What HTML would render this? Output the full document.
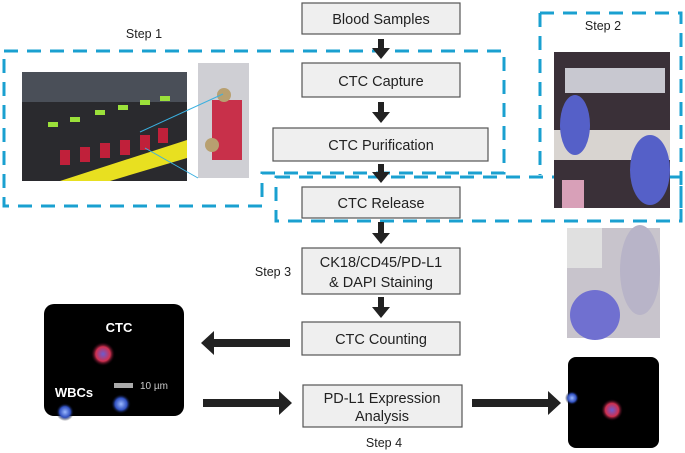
<!DOCTYPE html>
<html><head><meta charset="utf-8"><style>
html,body{margin:0;padding:0;background:#fff;}
svg{display:block;font-family:"Liberation Sans",Arial,sans-serif;}
</style></head><body>
<svg width="685" height="453" viewBox="0 0 685 453" xmlns="http://www.w3.org/2000/svg">
<defs>
<radialGradient id="cell" cx="50%" cy="50%" r="50%"><stop offset="0" stop-color="#6a5cd0"/><stop offset="0.6" stop-color="#d03050"/><stop offset="1" stop-color="#200010" stop-opacity="0"/></radialGradient>
<radialGradient id="wbc" cx="50%" cy="50%" r="50%"><stop offset="0" stop-color="#9ab8ff"/><stop offset="0.6" stop-color="#3050c0"/><stop offset="1" stop-color="#000" stop-opacity="0"/></radialGradient>
</defs>
<!-- dashed boxes -->
<g fill="none" stroke="#1aa0d0" stroke-width="3" stroke-dasharray="14,9">
<path d="M4 51 H504 V173 H262 V206 H4 Z"/>
<path d="M276 177 H681 V221 H276 Z"/>
<path d="M540 13 H681 V221 M540 13 V175"/>
</g>
<!-- photos -->
<rect x="22" y="72" width="165" height="109" fill="#2a2a2e"/>
<rect x="22" y="72" width="165" height="30" fill="#4a4f58"/>
<polygon points="60,181 187,140 187,158 110,181" fill="#e8e020"/>
<g fill="#c0203a"><rect x="60" y="150" width="10" height="15"/><rect x="80" y="147" width="10" height="15"/><rect x="100" y="143" width="10" height="15"/><rect x="120" y="140" width="10" height="15"/><rect x="140" y="135" width="10" height="15"/><rect x="158" y="128" width="10" height="15"/></g>
<g fill="#9be03a"><rect x="48" y="122" width="10" height="5"/><rect x="70" y="117" width="10" height="5"/><rect x="95" y="110" width="10" height="5"/><rect x="118" y="105" width="10" height="5"/><rect x="140" y="100" width="10" height="5"/><rect x="160" y="96" width="10" height="5"/></g>
<rect x="198" y="63" width="51" height="115" fill="#cfcfd4"/>
<rect x="212" y="100" width="30" height="60" fill="#c8304a"/>
<circle cx="224" cy="95" r="7" fill="#b8a070"/><circle cx="212" cy="145" r="7" fill="#b8a070"/>
<line x1="140" y1="132" x2="223" y2="94" stroke="#3ab0e0" stroke-width="1"/>
<line x1="145" y1="148" x2="198" y2="178" stroke="#3ab0e0" stroke-width="1"/>
<rect x="554" y="52" width="116" height="156" fill="#3a3038"/>
<rect x="565" y="68" width="100" height="25" fill="#c8c8d0"/>
<rect x="554" y="130" width="116" height="30" fill="#d8d4d0"/>
<ellipse cx="575" cy="125" rx="15" ry="30" fill="#5560c8"/>
<ellipse cx="650" cy="170" rx="20" ry="35" fill="#5560c8"/>
<rect x="562" y="180" width="22" height="28" fill="#d8a0b8"/>
<rect x="567" y="228" width="93" height="110" fill="#c8c4cc"/>
<rect x="567" y="228" width="35" height="40" fill="#e0e0e0"/>
<ellipse cx="595" cy="315" rx="25" ry="25" fill="#7070d0"/>
<ellipse cx="640" cy="270" rx="20" ry="45" fill="#b8b4c8"/>
<!-- cell images -->
<rect x="44" y="304" width="140" height="112" rx="10" fill="#000"/>
<circle cx="103" cy="354" r="12" fill="url(#cell)"/>
<circle cx="121" cy="404" r="10" fill="url(#wbc)"/>
<circle cx="65" cy="412" r="9" fill="url(#wbc)"/>
<text x="119" y="332" font-size="13" font-weight="bold" fill="#fff" text-anchor="middle">CTC</text>
<text x="74" y="397" font-size="13" font-weight="bold" fill="#fff" text-anchor="middle">WBCs</text>
<rect x="114" y="383" width="19" height="5" fill="#aaa"/>
<text x="140" y="389" font-size="10" fill="#ccc">10 µm</text>
<rect x="568" y="357" width="91" height="91" rx="8" fill="#000"/>
<circle cx="612" cy="410" r="11" fill="url(#cell)"/>
<circle cx="572" cy="398" r="7" fill="url(#wbc)"/>
<!-- flow boxes -->
<g fill="#efefef" stroke="#555" stroke-width="1.2">
<rect x="302" y="3" width="158" height="31"/>
<rect x="302" y="63" width="158" height="34"/>
<rect x="273" y="128" width="215" height="33"/>
<rect x="302" y="187" width="158" height="31"/>
<rect x="302" y="248" width="158" height="46"/>
<rect x="302" y="322" width="158" height="33"/>
<rect x="303" y="385" width="159" height="42"/>
</g>
<g font-size="14.5" fill="#222" text-anchor="middle">
<text x="381" y="24">Blood Samples</text>
<text x="381" y="86">CTC Capture</text>
<text x="381" y="150">CTC Purification</text>
<text x="381" y="208">CTC Release</text>
<text x="381" y="267">CK18/CD45/PD-L1</text>
<text x="381" y="287">&amp; DAPI Staining</text>
<text x="381" y="344">CTC Counting</text>
<text x="382" y="403">PD-L1 Expression</text>
<text x="382" y="421">Analysis</text>
</g>
<g font-size="12.5" fill="#222" text-anchor="middle">
<text x="144" y="38">Step 1</text>
<text x="603" y="30">Step 2</text>
<text x="273" y="276">Step 3</text>
<text x="384" y="447">Step 4</text>
</g>
<!-- arrows -->
<g fill="#222">
<path d="M378 39 h6 v9 h6 l-9 11 l-9 -11 h6 z"/>
<path d="M378 102 h6 v10 h6 l-9 11 l-9 -11 h6 z"/>
<path d="M378 164 h6 v8 h6 l-9 11 l-9 -11 h6 z"/>
<path d="M378 222 h6 v11 h6 l-9 11 l-9 -11 h6 z"/>
<path d="M378 297 h6 v10 h6 l-9 11 l-9 -11 h6 z"/>
<path d="M290 339 v8 h-76 v8 l-13 -12 l13 -12 v8 z"/>
<path d="M203 399 h76 v-8 l13 12 l-13 12 v-8 h-76 z"/>
<path d="M472 399 h76 v-8 l13 12 l-13 12 v-8 h-76 z"/>
</g>
</svg>
</body></html>
